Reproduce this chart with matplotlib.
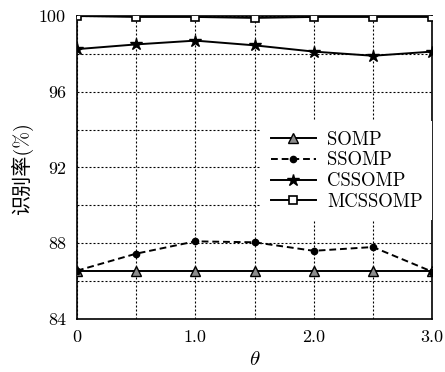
import matplotlib
matplotlib.use("Agg")
import matplotlib.pyplot as plt
from matplotlib.ticker import MultipleLocator, FixedLocator

theta = [0, 0.5, 1.0, 1.5, 2.0, 2.5, 3.0]
somp = [86.55, 86.55, 86.55, 86.55, 86.55, 86.55, 86.55]
ssomp = [86.55, 87.45, 88.1, 88.05, 87.6, 87.8, 86.5]
cssomp = [98.25, 98.5, 98.7, 98.45, 98.12, 97.9, 98.12]
mcssomp = [100.0, 99.95, 99.95, 99.9, 99.95, 99.95, 99.95]

xticks = [0, 1.0, 2.0, 3.0]
xticklabels = ["0", "1.0", "2.0", "3.0"]
yticks = [84, 88, 92, 96, 100]
yticklabels = ["84", "88", "92", "96", "100"]

plt.rcParams['font.family'] = ['cmr10', 'Noto Sans CJK SC', 'DejaVu Sans']
plt.rcParams['mathtext.fontset'] = 'cm'
plt.rcParams['axes.formatter.use_mathtext'] = True

fig = plt.figure(figsize=(4.45, 3.72), dpi=100)
ax = fig.add_axes([0.173, 0.1425, 0.798, 0.8145])

lw = 1.4
ax.plot(theta, somp, color='black', lw=lw, marker='^', ms=7, mfc='0.55', mec='black', mew=1, label='SOMP', zorder=3)
ax.plot(theta, ssomp, color='black', lw=lw, ls=(0, (3.5, 2)), marker='o', ms=4.5, mfc='black', mec='black', label='SSOMP', zorder=3)
ax.plot(theta, cssomp, color='black', lw=lw, marker='*', ms=9, mfc='black', mec='black', label='CSSOMP', zorder=3)
ax.plot(theta, mcssomp, color='black', lw=lw, marker='s', ms=6, mfc='white', mec='black', mew=1.2, label='MCSSOMP', zorder=3)

ax.set_xlim(0, 3.0)
ax.set_ylim(84, 100)
ax.xaxis.set_major_locator(FixedLocator(xticks))
ax.set_xticklabels(xticklabels)
ax.xaxis.set_minor_locator(MultipleLocator(0.5))
ax.yaxis.set_major_locator(FixedLocator(yticks))
ax.set_yticklabels(yticklabels)
ax.yaxis.set_minor_locator(MultipleLocator(2))
ax.tick_params(which='both', length=0, labelsize=13, pad=8)
ax.grid(True, which='both', color='black', ls=(0, (1.8, 1.8)), lw=0.8)
ax.set_axisbelow(True)
for s in ax.spines.values():
    s.set_linewidth(1.2)

ax.set_xlabel(r'$\theta$', fontsize=15, labelpad=4)
ax.set_ylabel('识别率(%)', fontsize=14.5, labelpad=4)

leg = ax.legend(loc='upper right', bbox_to_anchor=(1.0, 0.652), frameon=True,
                fancybox=False, edgecolor='none', facecolor='white', framealpha=1,
                fontsize=13.5, handlelength=2.4, handletextpad=0.6, labelspacing=0.15,
                borderaxespad=0, borderpad=0.5)

fig.savefig('out.png', dpi=100)
